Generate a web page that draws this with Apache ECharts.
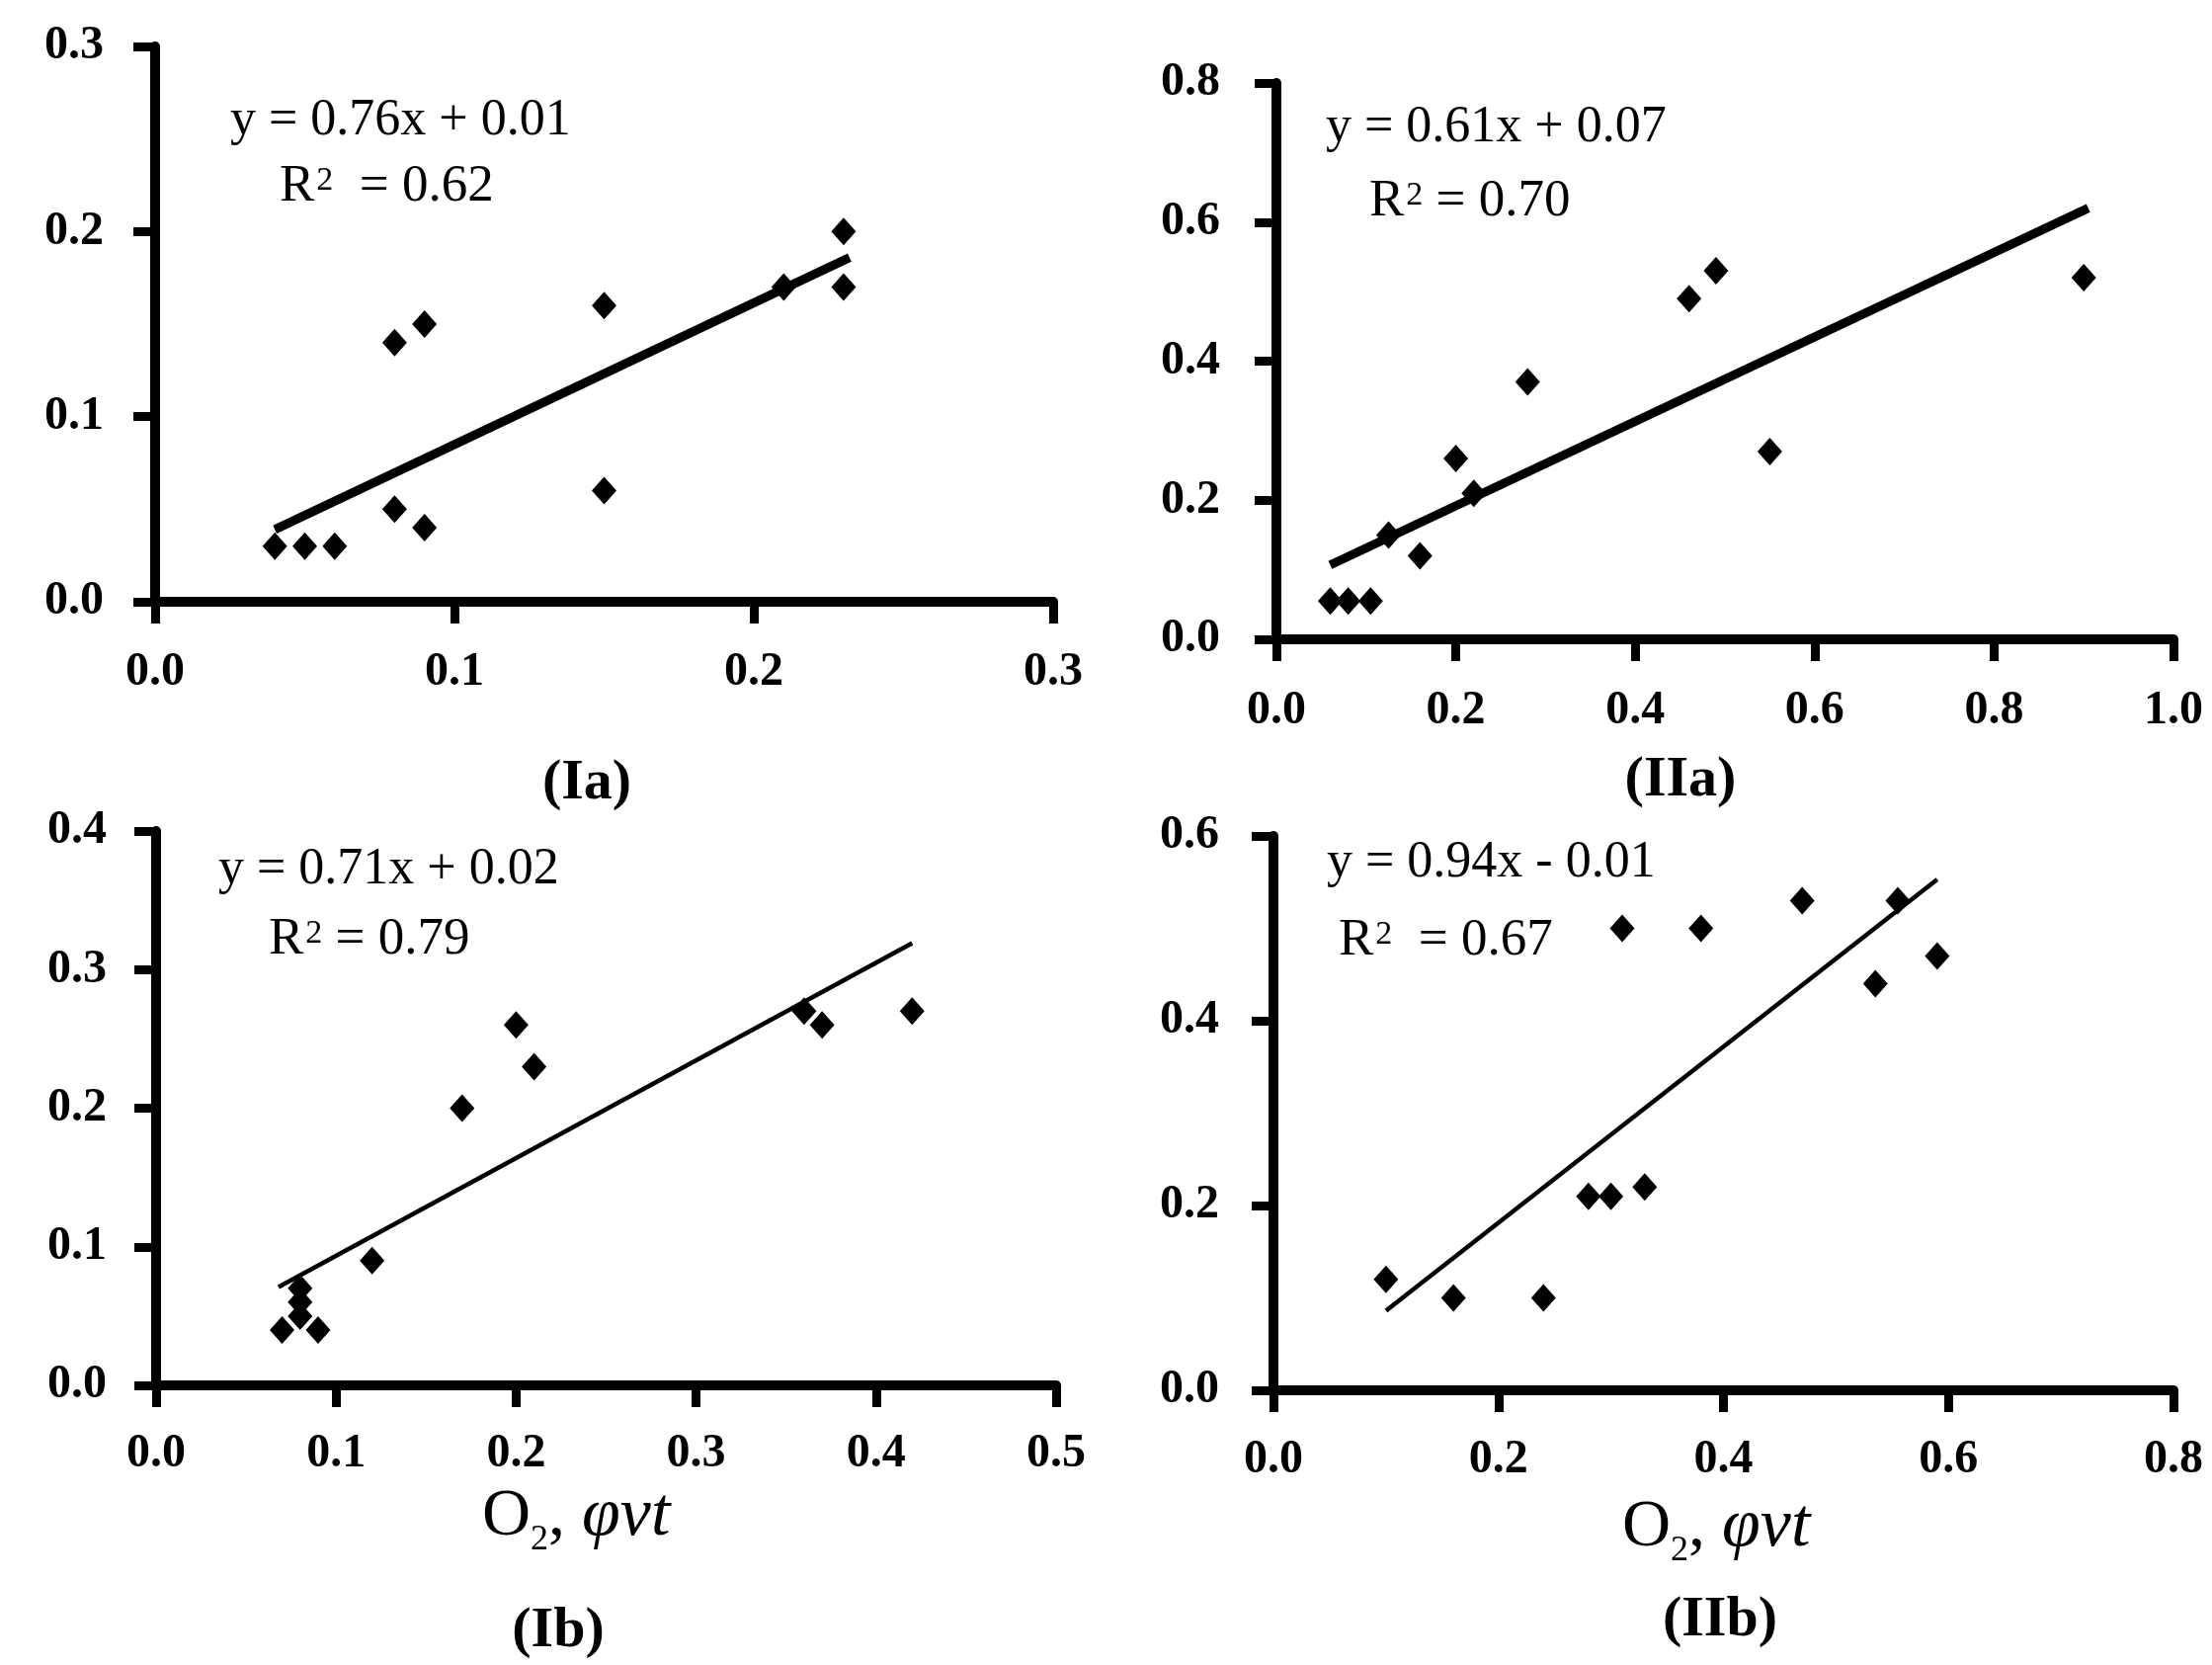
<!DOCTYPE html>
<html>
<head>
<meta charset="utf-8">
<script src="https://cdn.jsdelivr.net/npm/echarts@6/dist/echarts.min.js"></script>
<style>
  html, body { margin: 0; padding: 0; background: #fff; }
  #chart { width: 2239px; height: 1685px; }
</style>
</head>
<body>
<div id="chart"></div>
<script>
// values
const iaX = [0.04, 0.05, 0.06, 0.08, 0.09, 0.08, 0.09, 0.15, 0.15, 0.21, 0.23, 0.23];
const iaY = [0.03, 0.03, 0.03, 0.05, 0.04, 0.14, 0.15, 0.16, 0.06, 0.17, 0.20, 0.17];
const iaTrend = [[0.04, 0.039], [0.232, 0.186]];

const iiaX = [0.06, 0.08, 0.105, 0.125, 0.16, 0.20, 0.22, 0.28, 0.46, 0.49, 0.55, 0.90];
const iiaY = [0.055, 0.055, 0.055, 0.15, 0.12, 0.26, 0.21, 0.37, 0.49, 0.53, 0.27, 0.52];
const iiaTrend = [[0.06, 0.107], [0.905, 0.62]];

const ibX = [0.07, 0.08, 0.08, 0.08, 0.09, 0.12, 0.17, 0.20, 0.21, 0.36, 0.37, 0.42];
const ibY = [0.04, 0.05, 0.06, 0.07, 0.04, 0.09, 0.20, 0.26, 0.23, 0.27, 0.26, 0.27];
const ibTrend = [[0.068, 0.071], [0.42, 0.319]];

const iibX = [0.10, 0.16, 0.24, 0.28, 0.30, 0.33, 0.31, 0.38, 0.47, 0.555, 0.535, 0.59];
const iibY = [0.12, 0.10, 0.10, 0.21, 0.21, 0.22, 0.50, 0.50, 0.53, 0.53, 0.44, 0.47];
const iibTrend = [[0.10, 0.086], [0.59, 0.553]];

// axis ranges [min, max, interval]
const xRanges = [[0, 0.3, 0.1], [0, 1.0, 0.2], [0, 0.5, 0.1], [0, 0.8, 0.2]];
const yRanges = [[0, 0.3, 0.1], [0, 0.8, 0.2], [0, 0.4, 0.1], [0, 0.6, 0.2]];

const equations = ['y = 0.76x + 0.01', 'y = 0.61x + 0.07', 'y = 0.71x + 0.02', 'y = 0.94x - 0.01'];
const rSquared = ['  = 0.62', ' = 0.70', ' = 0.79', '  = 0.67'];
const panelNames = ['(Ia)', '(IIa)', '(Ib)', '(IIb)'];

const panels = [
  { xs: iaX, ys: iaY, trend: iaTrend, lw: 9 },
  { xs: iiaX, ys: iiaY, trend: iiaTrend, lw: 9 },
  { xs: ibX, ys: ibY, trend: ibTrend, lw: 4.5 },
  { xs: iibX, ys: iibY, trend: iibTrend, lw: 4.5 }
];

// layout (pixels)
const grids = [
  { left: 157, top: 47, width: 909, height: 562 },
  { left: 1292, top: 84, width: 908, height: 563 },
  { left: 158, top: 841, width: 911, height: 561 },
  { left: 1289, top: 846, width: 911, height: 561 }
];
const yLabelMargin = [52, 57, 50, 55];
const xLabelMargin = [48, 49, 46, 47];
const eqPos = [
  [233, 122, 283, 189],
  [1342, 129, 1386, 204],
  [221, 880, 272, 951],
  [1343, 873, 1355, 952]
];
const namePos = [[594, 793], [1701, 790], [565, 1651], [1741, 1640]];
const xTitlePos = [null, null, [488, 1535], [1642, 1546]];

const SERIF = '"Liberation Serif", "Times New Roman", serif';

function axisCommon(range, margin, i) {
  return {
    type: 'value',
    gridIndex: i,
    min: range[0],
    max: range[1],
    interval: range[2],
    splitLine: { show: false },
    axisLine: { show: true, onZero: false, lineStyle: { color: '#000', width: 10 } },
    axisTick: { show: true, inside: false, length: 22, lineStyle: { color: '#000', width: 9 } },
    axisLabel: {
      margin: margin,
      color: '#000',
      fontFamily: SERIF,
      fontWeight: 'bold',
      fontSize: 48,
      formatter: v => v.toFixed(1)
    }
  };
}

const xAxis = xRanges.map((r, i) => axisCommon(r, xLabelMargin[i], i));
const yAxis = yRanges.map((r, i) => axisCommon(r, yLabelMargin[i], i));

const series = [];
panels.forEach((p, i) => {
  series.push({
    type: 'line',
    xAxisIndex: i,
    yAxisIndex: i,
    data: p.trend,
    symbol: 'none',
    silent: true,
    lineStyle: { color: '#000', width: p.lw, cap: 'butt' },
    z: 2
  });
  series.push({
    type: 'scatter',
    xAxisIndex: i,
    yAxisIndex: i,
    data: p.xs.map((x, k) => [x, p.ys[k]]),
    symbol: 'diamond',
    symbolSize: [25, 28],
    itemStyle: { color: '#000', opacity: 1 },
    z: 3
  });
});

const graphic = [];
equations.forEach((eq, i) => {
  const pos = eqPos[i];
  graphic.push({
    type: 'text', x: pos[0], y: pos[1],
    style: {
      text: eq, fill: '#000', align: 'left', verticalAlign: 'middle',
      font: '52px ' + SERIF
    }
  });
  graphic.push({
    type: 'text', x: pos[2], y: pos[3],
    style: {
      text: '{r|R}{s|2}{r|' + rSquared[i] + '}',
      align: 'left', verticalAlign: 'middle',
      rich: {
        r: { fontFamily: SERIF, fontSize: 53, lineHeight: 64, color: '#000', verticalAlign: 'middle' },
        s: { fontFamily: SERIF, fontSize: 34, lineHeight: 64, color: '#000', verticalAlign: 'middle', padding: [0, 0, 12, 2] }
      }
    }
  });
});
panelNames.forEach((n, i) => {
  graphic.push({
    type: 'text', x: namePos[i][0], y: namePos[i][1],
    style: {
      text: n, fill: '#000', align: 'center', verticalAlign: 'middle',
      font: 'bold 58px ' + SERIF
    }
  });
});
xTitlePos.forEach(pos => {
  if (!pos) return;
  graphic.push({
    type: 'text', x: pos[0], y: pos[1],
    style: {
      text: '{o|O}{s|2}{o|, }{i|φvt}',
      align: 'left', verticalAlign: 'middle',
      rich: {
        o: { fontFamily: SERIF, fontSize: 68, lineHeight: 84, color: '#000', verticalAlign: 'middle' },
        s: { fontFamily: SERIF, fontSize: 36, lineHeight: 40, color: '#000', verticalAlign: 'bottom' },
        i: { fontFamily: SERIF, fontSize: 70, fontStyle: 'italic', lineHeight: 84, color: '#000', verticalAlign: 'middle' }
      }
    }
  });
});

const chart = echarts.init(document.getElementById('chart'), null, { renderer: 'canvas' });
chart.setOption({
  backgroundColor: '#fff',
  animation: false,
  grid: grids,
  xAxis: xAxis,
  yAxis: yAxis,
  series: series,
  graphic: graphic
});
</script>
</body>
</html>
